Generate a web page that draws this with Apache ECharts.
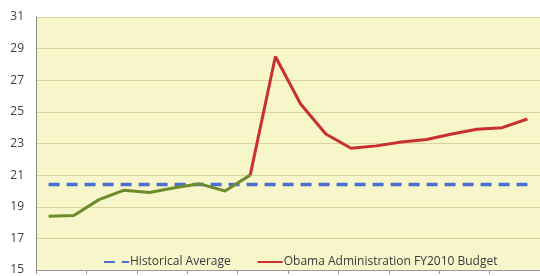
<!DOCTYPE html>
<html><head><meta charset="utf-8">
<script src="https://cdn.jsdelivr.net/npm/echarts@6/dist/echarts.min.js"></script>
<style>html,body{margin:0;padding:0;background:#fff}#c{width:540px;height:276px}</style>
</head><body><div id="c"></div>
<script>
const years = ['2000','2001','2002','2003','2004','2005','2006','2007','2008','2009','2010','2011','2012','2013','2014','2015','2016','2017','2018','2019'];
const actual = [18.4,18.45,19.45,20.05,19.9,20.2,20.45,20.0,21.0,null,null,null,null,null,null,null,null,null,null,null];
const budget = [null,null,null,null,null,null,null,null,21.0,28.5,25.5,23.6,22.7,22.85,23.1,23.25,23.6,23.9,24.0,24.55];
const histAvg = [20.4,20.4,20.4,20.4,20.4,20.4,20.4,20.4,20.4,20.4,20.4,20.4,20.4,20.4,20.4,20.4,20.4,20.4,20.4,20.4];
const yTicks = {min:15, max:31, interval:2};

const chart = echarts.init(document.getElementById('c'), null, {renderer:'canvas'});
chart.setOption({
  animation:false,
  grid:{left:36, top:17, width:512, height:256, show:true, backgroundColor:'#f7f5ca', borderWidth:0},
  legend:{
    top:251, left:98, itemGap:26, itemWidth:25, itemHeight:3,
    itemStyle:{opacity:0},
    textStyle:{fontFamily:'Open Sans', fontSize:12, color:'#3a3a3a', padding:[0,0,0,-4]},
    data:['Historical Average','Obama Administration FY2010 Budget']
  },
  xAxis:{type:'category', data:years, boundaryGap:true,
    axisLine:{lineStyle:{color:'#999'}},
    axisTick:{show:true, interval:1, length:4, lineStyle:{color:'#999'}},
    axisLabel:{show:false}},
  yAxis:{type:'value', min:yTicks.min, max:yTicks.max, interval:yTicks.interval,
    axisLine:{show:true, lineStyle:{color:'#8a8a80', width:1}},
    axisTick:{show:false},
    axisLabel:{fontFamily:'Open Sans', fontSize:12, color:'#404040', margin:12},
    splitLine:{lineStyle:{color:'#d9d49e', width:1}}},
  series:[
    {name:'Historical Average', type:'line', data:histAvg, symbol:'none',
      lineStyle:{color:'#4a6fd0', width:3.5, type:[11,7]}, z:3},
    {name:'Actual', type:'line', data:actual, symbol:'none',
      lineStyle:{color:'#6e8b2c', width:3}, z:4},
    {name:'Obama Administration FY2010 Budget', type:'line', data:budget, symbol:'none',
      lineStyle:{color:'#c8302f', width:3}, z:4}
  ]
});
</script></body></html>
